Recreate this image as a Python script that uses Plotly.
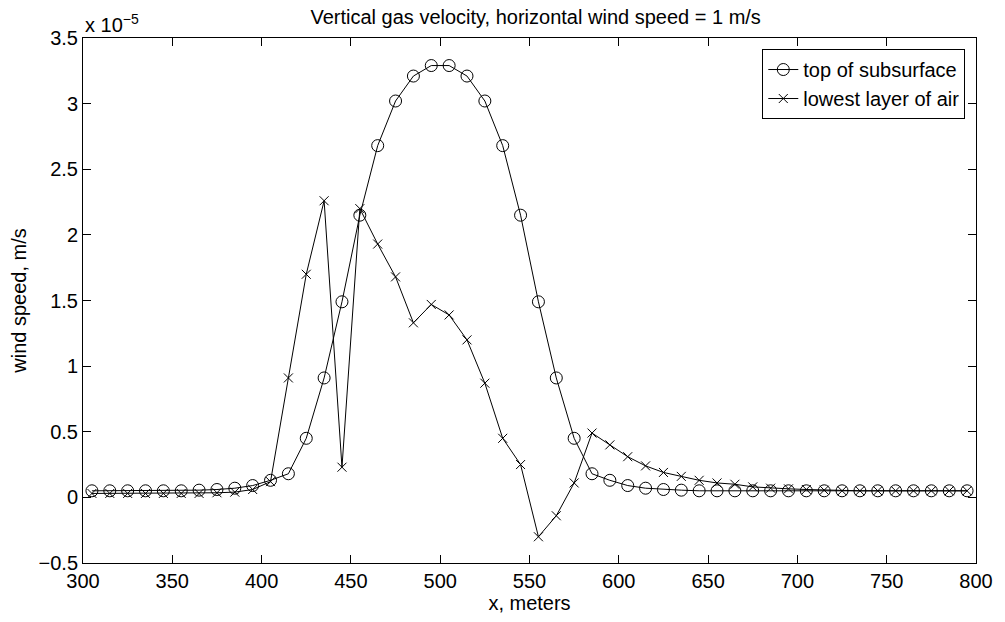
import plotly.graph_objects as go

x_vals = list(range(305, 800, 10))

# values in units of 1e-5 m/s
top_subsurface = [0.05, 0.05, 0.05, 0.05, 0.05, 0.05, 0.055, 0.06, 0.07, 0.09,
                  0.13, 0.18, 0.45, 0.91, 1.49, 2.15, 2.68, 3.02, 3.21, 3.29,
                  3.29, 3.21, 3.02, 2.68, 2.15, 1.49, 0.91, 0.45, 0.18, 0.13,
                  0.09, 0.07, 0.06, 0.055, 0.05, 0.05, 0.05, 0.05, 0.05, 0.05,
                  0.05, 0.05, 0.05, 0.05, 0.05, 0.05, 0.05, 0.05, 0.05, 0.05]

lowest_air = [0.03, 0.03, 0.03, 0.03, 0.03, 0.03, 0.03, 0.035, 0.04, 0.06,
              0.12, 0.91, 1.70, 2.26, 0.23, 2.20, 1.93, 1.68, 1.33, 1.47,
              1.39, 1.20, 0.87, 0.45, 0.25, -0.30, -0.14, 0.11, 0.49, 0.40,
              0.31, 0.24, 0.19, 0.16, 0.13, 0.11, 0.10, 0.08, 0.07, 0.065,
              0.06, 0.055, 0.05, 0.05, 0.05, 0.05, 0.05, 0.05, 0.05, 0.05]

x_ticks = [300, 350, 400, 450, 500, 550, 600, 650, 700, 750, 800]
y_ticks = [-0.5, 0, 0.5, 1, 1.5, 2, 2.5, 3, 3.5]
y_tick_text = ["\u22120.5", "0", "0.5", "1", "1.5", "2", "2.5", "3", "3.5"]

FONT = "Liberation Sans, Arial, Helvetica, sans-serif"
FS = 20

fig = go.Figure()
fig.add_trace(go.Scatter(
    x=x_vals, y=top_subsurface, mode="lines+markers", name="top of subsurface",
    line=dict(color="black", width=1),
    marker=dict(symbol="circle-open", size=12, color="black", line=dict(width=1))))
fig.add_trace(go.Scatter(
    x=x_vals, y=lowest_air, mode="lines+markers", name="lowest layer of air",
    line=dict(color="black", width=1),
    marker=dict(symbol="x-thin-open", size=9, color="black", line=dict(width=1))))

axis_common = dict(showgrid=False, zeroline=False, showline=True, linecolor="black",
                   linewidth=1, mirror="ticks", ticks="inside", ticklen=8,
                   tickcolor="black", tickfont=dict(family=FONT, size=FS, color="black"))

fig.update_layout(
    width=1005, height=622,
    margin=dict(l=83, r=22, t=38, b=59),
    paper_bgcolor="white", plot_bgcolor="white",
    font=dict(family=FONT, size=FS, color="black"),
    title=dict(text="Vertical gas velocity, horizontal wind speed = 1 m/s",
               x=0.533, xanchor="center", xref="container",
               y=0.973, yanchor="middle", yref="container",
               font=dict(family=FONT, size=FS, color="black")),
    xaxis=dict(range=[300, 800], tickvals=x_ticks,
               title=dict(text="x, meters", standoff=0, font=dict(family=FONT, size=FS)),
               **axis_common),
    yaxis=dict(range=[-0.5, 3.5], tickvals=y_ticks, ticktext=y_tick_text,
               title=dict(text="wind speed, m/s", standoff=6, font=dict(family=FONT, size=FS)),
               **axis_common),
    legend=dict(x=0.988, y=0.979, xanchor="right", yanchor="top",
                bgcolor="white", bordercolor="black", borderwidth=1,
                font=dict(family=FONT, size=FS, color="black"),
                tracegroupgap=0, itemwidth=30),
    showlegend=True,
    annotations=[dict(text="x 10<sup>\u22125</sup>", x=0, y=1.0, xref="paper", yref="paper",
                      xanchor="left", yanchor="bottom", showarrow=False,
                      font=dict(family=FONT, size=FS, color="black"))],
)

fig.write_html("out.html", config={"displayModeBar": False},
               post_script="document.body.style.margin='0';document.body.style.overflow='hidden';")
